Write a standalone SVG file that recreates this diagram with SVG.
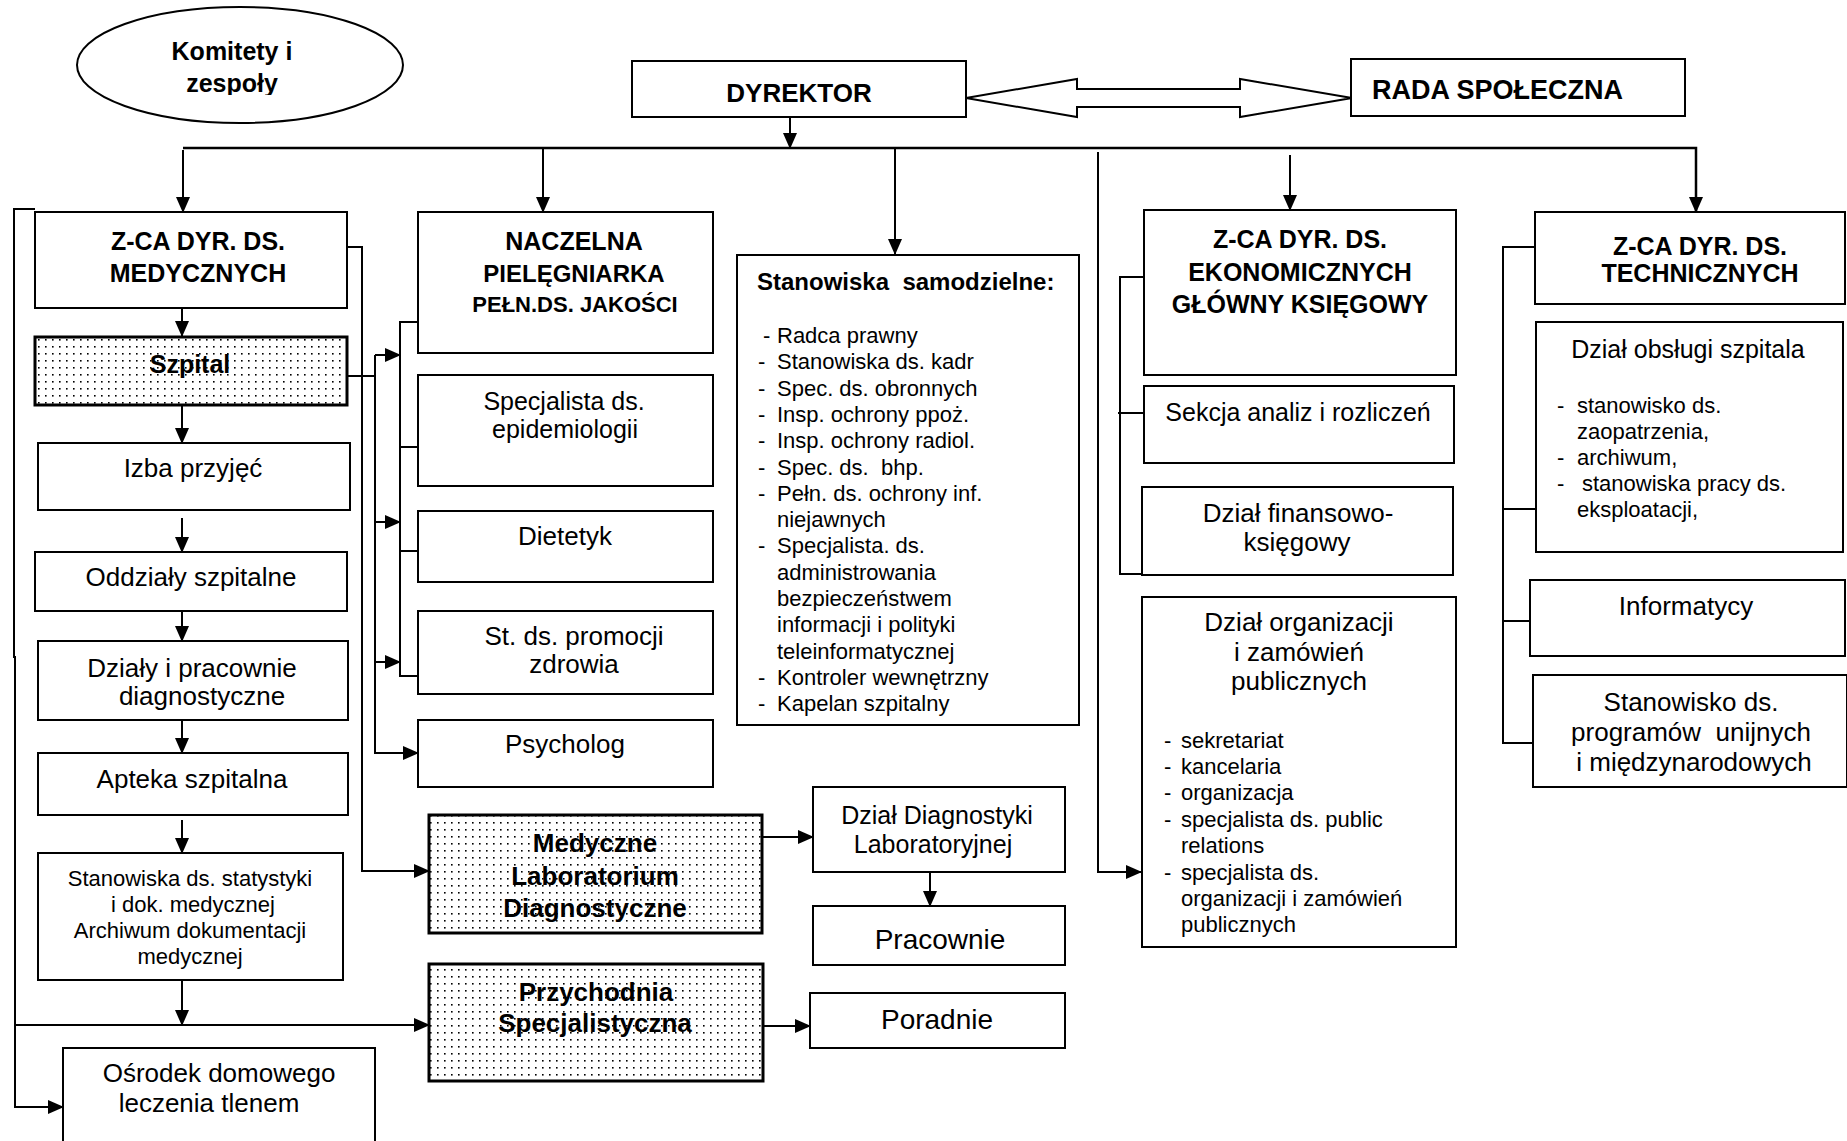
<svg xmlns="http://www.w3.org/2000/svg" width="1847" height="1141" viewBox="0 0 1847 1141">
<style>
.box{fill:#fff;stroke:#000;stroke-width:2}
.dot{fill:url(#dots);stroke:#000;stroke-width:3}
.t{font-family:"Liberation Sans",Arial,sans-serif;font-size:26px;text-anchor:middle;fill:#000}
.b{font-weight:bold;font-size:25px}
.s{font-size:22px;text-anchor:start}
.c{stroke:#000;stroke-width:2;fill:none}
.k{stroke-width:2.5}
.a{marker-end:url(#ah)}
</style>
<defs>
<marker id="ah" markerUnits="userSpaceOnUse" markerWidth="16" markerHeight="14" refX="15" refY="7" orient="auto"><path d="M0,0 L16,7 L0,14 z" fill="#000"/></marker>
<pattern id="dots" width="7" height="7" patternUnits="userSpaceOnUse"><rect width="7" height="7" fill="#fff"/><rect x="3" y="3" width="1.6" height="1.6" fill="#000"/></pattern>
<clipPath id="clipK"><rect x="0" y="0" width="420" height="95"/></clipPath>
</defs>

<g id="connectors">
<path class="c k a" d="M183,148 H1696 V212"/>
<path class="c a" d="M183,150 V212"/>
<path class="c a" d="M543,148 V212"/>
<path class="c a" d="M895,148 V254"/>
<path class="c a" d="M1290,155 V210"/>
<path class="c a" d="M790,117 V148"/>
<path class="c a" d="M1098,152 V872 H1141"/>
<polygon points="966,98 1077,79 1077,89 1240,89 1240,79 1352,98 1240,117 1240,107 1077,107 1077,117" fill="#fff" stroke="#000" stroke-width="2"/>
<path class="c a" d="M35,209 H14 V657 H15 V1107 H63"/>
<path class="c a" d="M15,1025 H429"/>
<path class="c a" d="M182,309 V336"/>
<path class="c a" d="M182,405 V443"/>
<path class="c a" d="M182,518 V552"/>
<path class="c a" d="M182,611 V641"/>
<path class="c a" d="M182,720 V753"/>
<path class="c a" d="M182,820 V853"/>
<path class="c a" d="M182,980 V1025"/>
<path class="c a" d="M347,247 H362 V871 H429"/>
<path class="c" d="M347,376 H375"/>
<path class="c a" d="M375,355 V753 H418"/>
<path class="c a" d="M375,355 H400"/>
<path class="c a" d="M375,522 H400"/>
<path class="c a" d="M375,662 H400"/>
<path class="c" d="M418,322 H400 V676 H418 M400,447 H418 M400,551 H418"/>
<path class="c a" d="M761,837 H813"/>
<path class="c a" d="M930,873 V906"/>
<path class="c a" d="M763,1026 H810"/>
<path class="c" d="M1144,277 H1120 V574 H1142 M1118,413 H1144"/>
<path class="c" d="M1535,247 H1503 V743 H1533 M1503,509 H1536 M1503,621 H1530"/>
</g>

<g id="komitety">
<ellipse cx="240" cy="65" rx="163" ry="58" fill="#fff" stroke="#000" stroke-width="2"/>
<g clip-path="url(#clipK)">
<text class="t b" x="232" y="60">Komitety i</text>
<text class="t b" x="232" y="92">zespoły</text>
</g>
</g>

<g id="dyrektor">
<rect class="box" x="632" y="61" width="334" height="56"/>
<text class="t b" x="799" y="102" style="font-size:26px">DYREKTOR</text>
</g>

<g id="rada">
<rect class="box" x="1351" y="59" width="334" height="57"/>
<text class="t b" x="1372" y="99" style="font-size:27px;text-anchor:start">RADA SPOŁECZNA</text>
</g>

<g id="zca-med">
<rect class="box" x="35" y="212" width="312" height="96"/>
<text class="t b" x="198" y="250">Z-CA DYR. DS.</text>
<text class="t b" x="198" y="282">MEDYCZNYCH</text>
</g>

<g id="szpital">
<rect class="dot" x="35" y="337" width="312" height="68"/>
<text class="t b" x="190" y="373">Szpital</text>
</g>

<g id="izba">
<rect class="box" x="38" y="443" width="312" height="67"/>
<text class="t" x="193" y="477">Izba przyjęć</text>
</g>

<g id="oddzialy">
<rect class="box" x="35" y="552" width="312" height="59"/>
<text class="t" x="191" y="586">Oddziały szpitalne</text>
</g>

<g id="dzialy">
<rect class="box" x="38" y="641" width="310" height="79"/>
<text class="t" x="192" y="677">Działy i pracownie</text>
<text class="t" x="202" y="705">diagnostyczne</text>
</g>

<g id="apteka">
<rect class="box" x="38" y="753" width="310" height="62"/>
<text class="t" x="192" y="788">Apteka szpitalna</text>
</g>

<g id="statystyki">
<rect class="box" x="38" y="853" width="305" height="127"/>
<text class="t" x="190" y="886" style="font-size:22px">Stanowiska ds. statystyki</text>
<text class="t" x="193" y="912" style="font-size:22px">i dok. medycznej</text>
<text class="t" x="190" y="938" style="font-size:22px">Archiwum dokumentacji</text>
<text class="t" x="190" y="964" style="font-size:22px">medycznej</text>
</g>

<g id="osrodek">
<rect class="box" x="63" y="1048" width="312" height="110"/>
<text class="t" x="219" y="1082">Ośrodek domowego</text>
<text class="t" x="209" y="1112">leczenia tlenem</text>
</g>

<g id="naczelna">
<rect class="box" x="418" y="212" width="295" height="141"/>
<text class="t b" x="574" y="250">NACZELNA</text>
<text class="t b" x="574" y="282" style="font-size:24px">PIELĘGNIARKA</text>
<text class="t b" x="575" y="312" style="font-size:22px">PEŁN.DS. JAKOŚCI</text>
</g>

<g id="epidemiologia">
<rect class="box" x="418" y="375" width="295" height="111"/>
<text class="t" x="564" y="410" style="font-size:25px">Specjalista ds.</text>
<text class="t" x="565" y="438" style="font-size:25px">epidemiologii</text>
</g>

<g id="dietetyk">
<rect class="box" x="418" y="511" width="295" height="71"/>
<text class="t" x="565" y="545">Dietetyk</text>
</g>

<g id="promocja">
<rect class="box" x="418" y="611" width="295" height="83"/>
<text class="t" x="574" y="645">St. ds. promocji</text>
<text class="t" x="574" y="673">zdrowia</text>
</g>

<g id="psycholog">
<rect class="box" x="418" y="720" width="295" height="67"/>
<text class="t" x="565" y="753">Psycholog</text>
</g>

<g id="laboratorium">
<rect class="dot" x="429" y="815" width="333" height="118"/>
<text class="t b" x="595" y="852" style="font-size:26px">Medyczne</text>
<text class="t b" x="595" y="885" style="font-size:26px">Laboratorium</text>
<text class="t b" x="595" y="917" style="font-size:26px">Diagnostyczne</text>
</g>

<g id="przychodnia">
<rect class="dot" x="429" y="964" width="334" height="117"/>
<text class="t b" x="596" y="1001" style="font-size:26px">Przychodnia</text>
<text class="t b" x="595" y="1032" style="font-size:26px">Specjalistyczna</text>
</g>

<g id="diagnostyka">
<rect class="box" x="813" y="787" width="252" height="85"/>
<text class="t" x="937" y="824" style="font-size:25px">Dział Diagnostyki</text>
<text class="t" x="933" y="853" style="font-size:25px">Laboratoryjnej</text>
</g>

<g id="pracownie">
<rect class="box" x="813" y="906" width="252" height="59"/>
<text class="t" x="940" y="949" style="font-size:28px">Pracownie</text>
</g>

<g id="poradnie">
<rect class="box" x="810" y="993" width="255" height="55"/>
<text class="t" x="937" y="1029" style="font-size:28px">Poradnie</text>
</g>

<g id="stanowiska">
<rect class="box" x="737" y="255" width="342" height="470"/>
<text class="t b" x="757" y="290" style="font-size:24px;text-anchor:start" xml:space="preserve">Stanowiska  samodzielne:</text>
<text class="t s" x="763" y="343">-</text><text class="t s" x="777" y="343">Radca prawny</text>
<text class="t s" x="758" y="369">-</text><text class="t s" x="777" y="369">Stanowiska ds. kadr</text>
<text class="t s" x="758" y="396">-</text><text class="t s" x="777" y="396">Spec. ds. obronnych</text>
<text class="t s" x="758" y="422">-</text><text class="t s" x="777" y="422">Insp. ochrony ppoż.</text>
<text class="t s" x="758" y="448">-</text><text class="t s" x="777" y="448">Insp. ochrony radiol.</text>
<text class="t s" x="758" y="475">-</text><text class="t s" x="777" y="475" xml:space="preserve">Spec. ds.  bhp.</text>
<text class="t s" x="758" y="501">-</text><text class="t s" x="777" y="501">Pełn. ds. ochrony inf.</text>
<text class="t s" x="777" y="527">niejawnych</text>
<text class="t s" x="758" y="553">-</text><text class="t s" x="777" y="553">Specjalista. ds.</text>
<text class="t s" x="777" y="580">administrowania</text>
<text class="t s" x="777" y="606">bezpieczeństwem</text>
<text class="t s" x="777" y="632">informacji i polityki</text>
<text class="t s" x="777" y="659">teleinformatycznej</text>
<text class="t s" x="758" y="685">-</text><text class="t s" x="777" y="685">Kontroler wewnętrzny</text>
<text class="t s" x="758" y="711">-</text><text class="t s" x="777" y="711">Kapelan szpitalny</text>
</g>

<g id="zca-ekon">
<rect class="box" x="1144" y="210" width="312" height="165"/>
<text class="t b" x="1300" y="248">Z-CA DYR. DS.</text>
<text class="t b" x="1300" y="281">EKONOMICZNYCH</text>
<text class="t b" x="1300" y="313">GŁÓWNY KSIĘGOWY</text>
</g>

<g id="sekcja">
<rect class="box" x="1144" y="386" width="310" height="77"/>
<text class="t" x="1298" y="421" style="font-size:25px">Sekcja analiz i rozliczeń</text>
</g>

<g id="finanse">
<rect class="box" x="1142" y="487" width="311" height="88"/>
<text class="t" x="1298" y="522">Dział finansowo-</text>
<text class="t" x="1297" y="551">księgowy</text>
</g>

<g id="organizacja">
<rect class="box" x="1142" y="597" width="314" height="350"/>
<text class="t" x="1299" y="631">Dział organizacji</text>
<text class="t" x="1299" y="661">i zamówień</text>
<text class="t" x="1299" y="690">publicznych</text>
<text class="t s" x="1164" y="748">-</text><text class="t s" x="1181" y="748">sekretariat</text>
<text class="t s" x="1164" y="774">-</text><text class="t s" x="1181" y="774">kancelaria</text>
<text class="t s" x="1164" y="800">-</text><text class="t s" x="1181" y="800">organizacja</text>
<text class="t s" x="1164" y="827">-</text><text class="t s" x="1181" y="827">specjalista ds. public</text>
<text class="t s" x="1181" y="853">relations</text>
<text class="t s" x="1164" y="880">-</text><text class="t s" x="1181" y="880">specjalista ds.</text>
<text class="t s" x="1181" y="906">organizacji i zamówień</text>
<text class="t s" x="1181" y="932">publicznych</text>
</g>

<g id="zca-tech">
<rect class="box" x="1535" y="212" width="310" height="92"/>
<text class="t b" x="1700" y="255">Z-CA DYR. DS.</text>
<text class="t b" x="1700" y="282">TECHNICZNYCH</text>
</g>

<g id="obsluga">
<rect class="box" x="1536" y="322" width="307" height="230"/>
<text class="t" x="1688" y="358" style="font-size:25px">Dział obsługi szpitala</text>
<text class="t s" x="1557" y="413">-</text><text class="t s" x="1577" y="413">stanowisko ds.</text>
<text class="t s" x="1577" y="439">zaopatrzenia,</text>
<text class="t s" x="1557" y="465">-</text><text class="t s" x="1577" y="465">archiwum,</text>
<text class="t s" x="1557" y="491">-</text><text class="t s" x="1582" y="491">stanowiska pracy ds.</text>
<text class="t s" x="1577" y="517">eksploatacji,</text>
</g>

<g id="informatycy">
<rect class="box" x="1530" y="580" width="315" height="76"/>
<text class="t" x="1686" y="615">Informatycy</text>
</g>

<g id="programy">
<rect class="box" x="1533" y="675" width="314" height="112"/>
<text class="t" x="1691" y="711">Stanowisko ds.</text>
<text class="t" x="1691" y="741" xml:space="preserve">programów  unijnych</text>
<text class="t" x="1694" y="771">i międzynarodowych</text>
</g>
</svg>
